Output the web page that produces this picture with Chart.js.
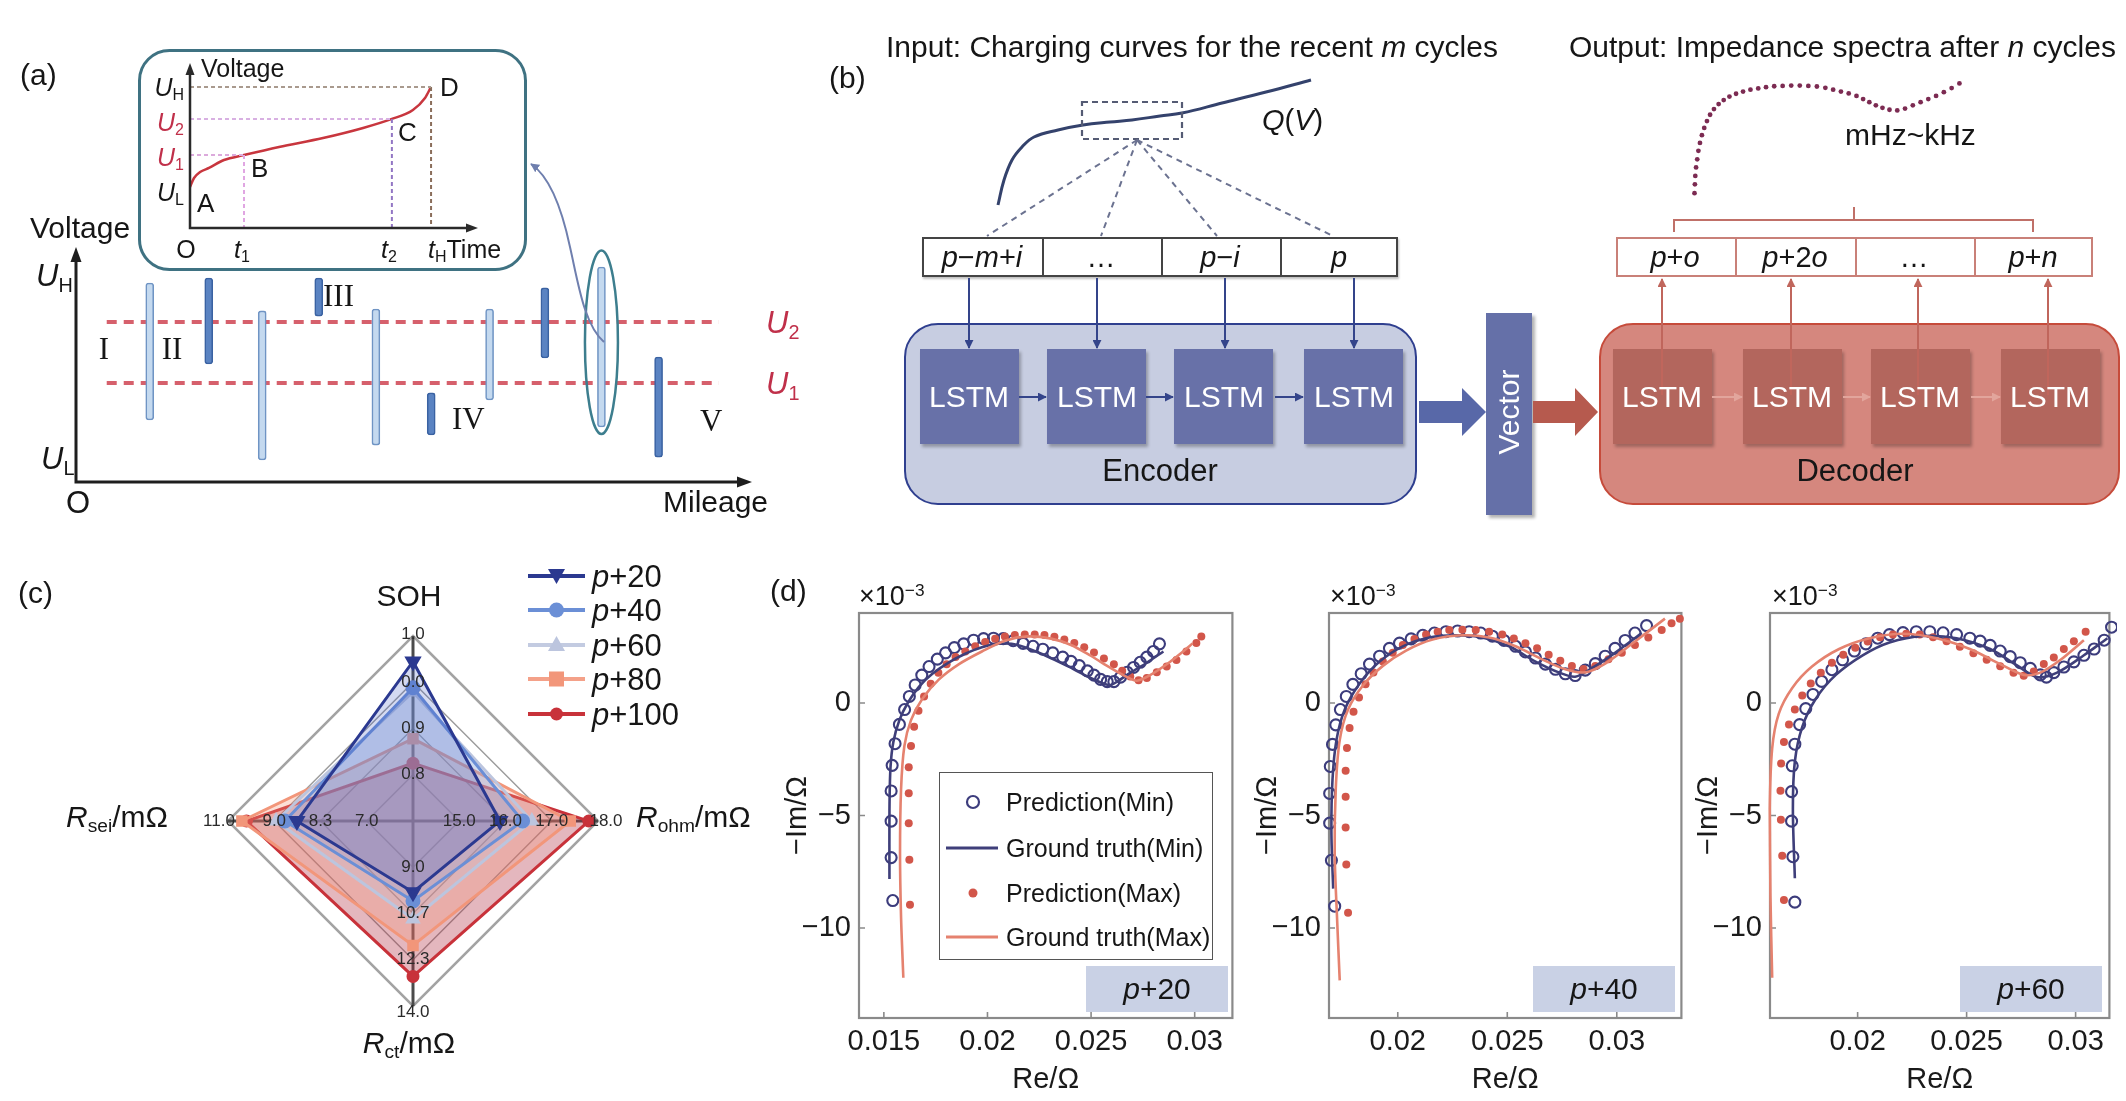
<!DOCTYPE html>
<html><head><meta charset="utf-8">
<script src="https://cdn.jsdelivr.net/npm/chart.js@4.4.1/dist/chart.umd.min.js"></script>
<style>
html,body{margin:0;padding:0;background:#fff;}
#root{position:relative;width:2126px;height:1101px;overflow:hidden;font-family:"Liberation Sans",Arial,Helvetica,sans-serif;color:#161616;}
.layer{position:absolute;left:0;top:0;width:2126px;height:1101px;}
.t{position:absolute;white-space:nowrap;line-height:1;}
.t sub,.t sup{font-size:0.64em;position:relative;line-height:0;vertical-align:baseline;}
.t sub{top:0.28em;}
.t sup{top:-0.55em;}
.box{position:absolute;box-sizing:border-box;}
canvas{position:absolute;}
</style></head>
<body><div id="root"><div class="layer" id="L0"></div><div class="layer" id="L1"></div><svg class="layer" id="L2" width="2126" height="1101" xmlns="http://www.w3.org/2000/svg"></svg><div class="layer" id="L3"></div></div>
<script>
// ======================= DATA =======================
// (a) inset: charging curve, normalised time vs normalised voltage
const insetTime = [0, 0.014, 0.035, 0.066, 0.118, 0.1875, 0.309, 0.462, 0.601, 0.701, 0.774, 0.816, 0.837];
const insetVolt = [0.248, 0.303, 0.339, 0.364, 0.412, 0.442, 0.491, 0.545, 0.606, 0.661, 0.715, 0.788, 0.855];
const insetLevelNames = ['UL', 'U1', 'U2', 'UH'];
const insetLevels = [0.248, 0.442, 0.661, 0.855];
const insetTimeNames = ['t1', 't2', 'tH'];
const insetTimes = [0.1875, 0.701, 0.837];
// (a) main: charging segments along mileage (voltage windows)
const segMileage = [7.0, 16.6, 25.3, 34.5, 43.8, 52.8, 62.3, 71.3, 80.5, 89.8];
const segLow  = [26.4, 50.2, 9.4, 70.6, 15.7, 20.0, 34.9, 52.8, 23.4, 10.6];
const segHigh = [84.7, 86.8, 72.8, 86.8, 73.6, 37.9, 73.6, 82.6, 91.5, 53.2];
const segDark = [false, true, false, true, false, true, false, true, false, true];
const voltLevelNames = ['U1', 'U2'];
const voltLevels = [42.1, 68.1];
// (b) schematic curves
const qvV = [0, 0.6, 1.4, 2.4, 3.6, 6.0, 8.5, 11.2, 13.4, 16.2, 18.4, 22.4, 26.8, 31.3];
const qvQ = [0.5, 3.0, 5.0, 6.3, 7.3, 8.0, 8.5, 8.8, 9.0, 9.4, 9.7, 10.7, 11.8, 13.0];
const specRe = [0.08,0.12,0.16,0.24,0.36,0.48,0.64,0.84,1.08,1.36,1.68,2.08,2.56,3.08,3.67,4.35,5.07,5.83,6.63,7.43,8.27,9.14,10.02,10.9,11.78,12.66,13.53,14.33,15.13,15.93,16.73,17.41,18.05,18.72,19.4,20.12,20.92,21.72,22.52,23.32,24.11,24.91,25.71,26.51,27.31];
const specIm = [0.33,1.27,2.17,3.07,3.93,4.83,5.67,6.5,7.27,8.0,8.67,9.27,9.8,10.23,10.6,10.9,11.13,11.33,11.47,11.6,11.7,11.73,11.77,11.77,11.73,11.67,11.53,11.33,11.13,10.93,10.67,10.33,10.0,9.67,9.4,9.2,9.13,9.33,9.67,10.0,10.33,10.67,11.07,11.5,12.0];
const inputCells = ['<i>p</i>−<i>m</i>+<i>i</i>', '…', '<i>p</i>−<i>i</i>', '<i>p</i>'];
const outputCells = ['<i>p</i>+<i>o</i>', '<i>p</i>+2<i>o</i>', '…', '<i>p</i>+<i>n</i>'];
// (c) radar (ring positions 0..4 on each spoke)
const radarAxes = ['SOH', 'Rohm', 'Rct', 'Rsei'];
const radarSeries = ['p+20', 'p+40', 'p+60', 'p+80', 'p+100'];
const radarP20  = [3.45, 1.88, 1.54, 2.51];
const radarP40  = [2.88, 2.37, 1.73, 2.77];
const radarP60  = [2.79, 2.57, 2.12, 2.96];
const radarP80  = [1.78, 3.40, 2.69, 3.70];
const radarP100 = [1.25, 3.80, 3.36, 3.60];
const radarTickSOH  = ['0.8', '0.9', '0.0', '1.0'];
const radarTickRohm = ['15.0', '16.0', '17.0', '18.0'];
const radarTickRct  = ['9.0', '10.7', '12.3', '14.0'];
const radarTickRsei = ['7.0', '8.3', '9.0', '11.0'];
// (d) impedance spectra  [Re/Ω, -Im/Ω ×10^-3]
const p20PredMin = [[0.01543,-8.78],[0.01535,-6.87],[0.01535,-5.25],[0.01535,-3.91],[0.0154,-2.77],[0.01554,-1.81],[0.01575,-0.95],[0.0160,-0.29],[0.01623,0.29],[0.01651,0.80],[0.01683,1.24],[0.01718,1.62],[0.01758,1.95],[0.01798,2.23],[0.0184,2.46],[0.01885,2.63],[0.01933,2.79],[0.01981,2.86],[0.02029,2.88],[0.02076,2.86],[0.02124,2.77],[0.02172,2.65],[0.0222,2.52],[0.02267,2.39],[0.02315,2.23],[0.02363,2.04],[0.02403,1.85],[0.02443,1.66],[0.02482,1.43],[0.02514,1.24],[0.02546,1.05],[0.02578,0.95],[0.0261,0.95],[0.02642,1.15],[0.02674,1.37],[0.02705,1.58],[0.02737,1.81],[0.02769,2.04],[0.02801,2.29],[0.0283,2.63]];
const p20TrueMin = [[0.01527,-7.82],[0.01527,-4.77],[0.01532,-2.86],[0.01546,-1.72],[0.01575,-0.76],[0.01615,0.0],[0.0167,0.73],[0.01734,1.30],[0.01814,1.81],[0.01893,2.19],[0.01973,2.48],[0.02053,2.63],[0.02116,2.63],[0.0218,2.48],[0.0226,2.19],[0.02339,1.85],[0.02419,1.49],[0.02498,1.11],[0.02562,0.86],[0.02594,0.80],[0.02626,0.95],[0.02689,1.34],[0.02769,1.79],[0.02849,2.29]];
const p20PredMax = [[0.01626,-8.97],[0.01623,-6.97],[0.0162,-5.34],[0.0162,-4.01],[0.0162,-2.86],[0.01631,-1.91],[0.01646,-1.05],[0.01667,-0.34],[0.01694,0.29],[0.01726,0.86],[0.01763,1.34],[0.01803,1.72],[0.01846,2.04],[0.01893,2.29],[0.01941,2.52],[0.01989,2.71],[0.02037,2.86],[0.02084,2.96],[0.02132,3.02],[0.0218,3.05],[0.02228,3.05],[0.02275,3.02],[0.02323,2.94],[0.02371,2.82],[0.02419,2.67],[0.02467,2.48],[0.02514,2.25],[0.02562,1.98],[0.0261,1.72],[0.0265,1.43],[0.02689,1.18],[0.02729,1.01],[0.02769,1.11],[0.02817,1.37],[0.02865,1.62],[0.02912,1.91],[0.0296,2.29],[0.03008,2.67],[0.03032,2.96]];
const p20TrueMax = [[0.01594,-12.21],[0.01583,-9.54],[0.01578,-6.68],[0.01583,-3.82],[0.01599,-1.91],[0.01631,-0.76],[0.01686,0.19],[0.01766,1.05],[0.01861,1.72],[0.01973,2.29],[0.02084,2.77],[0.02195,2.96],[0.02307,2.86],[0.02403,2.58],[0.02498,2.10],[0.02594,1.56],[0.02674,1.15],[0.02721,0.99],[0.02785,1.24],[0.02865,1.72],[0.02944,2.29],[0.0299,2.65]];
const p40PredMin = [[0.01712,-9.03],[0.01697,-6.99],[0.01689,-5.34],[0.01689,-4.02],[0.01692,-2.82],[0.01702,-1.84],[0.01717,-0.97],[0.01738,-0.29],[0.01765,0.29],[0.01795,0.83],[0.01833,1.30],[0.01871,1.73],[0.01917,2.08],[0.01962,2.43],[0.02008,2.66],[0.02061,2.85],[0.02114,3.01],[0.02167,3.11],[0.0222,3.17],[0.02273,3.20],[0.02326,3.17],[0.02379,3.11],[0.02432,2.97],[0.02485,2.78],[0.02538,2.52],[0.02583,2.27],[0.02629,2.0],[0.02674,1.73],[0.0272,1.50],[0.02765,1.30],[0.0281,1.22],[0.02856,1.46],[0.02902,1.75],[0.02947,2.08],[0.02992,2.43],[0.03038,2.78],[0.03083,3.11],[0.03136,3.44]];
const p40TrueMin = [[0.01705,-8.25],[0.01697,-5.73],[0.01702,-3.40],[0.0172,-1.65],[0.01758,-0.29],[0.01826,0.87],[0.01917,1.84],[0.02023,2.52],[0.02144,2.91],[0.02265,3.01],[0.02386,2.91],[0.02508,2.52],[0.02629,1.84],[0.02735,1.36],[0.0281,1.17],[0.02886,1.55],[0.02992,2.23],[0.03114,3.11]];
const p40PredMax = [[0.01773,-9.32],[0.01765,-7.18],[0.01762,-5.53],[0.01762,-4.17],[0.01762,-3.01],[0.01768,-2.0],[0.0178,-1.11],[0.01798,-0.39],[0.01823,0.25],[0.01853,0.83],[0.01889,1.36],[0.01932,1.84],[0.01977,2.23],[0.02023,2.58],[0.02076,2.85],[0.02129,3.05],[0.02182,3.17],[0.02235,3.24],[0.02295,3.26],[0.02356,3.24],[0.02417,3.17],[0.02477,3.05],[0.0253,2.87],[0.02583,2.66],[0.02636,2.43],[0.02689,2.14],[0.02742,1.88],[0.02795,1.65],[0.02848,1.51],[0.02902,1.65],[0.02962,1.94],[0.03023,2.23],[0.03083,2.58],[0.03144,2.91],[0.03205,3.24],[0.0325,3.55],[0.03288,3.75]];
const p40TrueMax = [[0.01735,-12.33],[0.01723,-9.61],[0.01712,-6.70],[0.01717,-3.79],[0.01735,-1.65],[0.01773,-0.29],[0.01841,0.78],[0.01932,1.65],[0.02038,2.33],[0.02159,2.82],[0.02295,3.01],[0.02417,2.91],[0.02538,2.52],[0.02659,1.94],[0.02765,1.50],[0.02856,1.36],[0.02947,1.75],[0.03068,2.62],[0.0322,3.75]];
const p60PredMin = [[0.01712,-8.85],[0.01703,-6.83],[0.01697,-5.25],[0.01697,-3.94],[0.017,-2.79],[0.01712,-1.83],[0.01734,-0.96],[0.01762,-0.25],[0.01795,0.38],[0.01835,0.96],[0.01882,1.48],[0.01931,1.92],[0.01985,2.31],[0.02038,2.63],[0.02092,2.88],[0.02146,3.04],[0.02208,3.13],[0.02269,3.17],[0.02331,3.17],[0.02392,3.12],[0.02454,3.04],[0.02515,2.88],[0.02562,2.75],[0.02608,2.56],[0.02654,2.31],[0.027,2.06],[0.02746,1.79],[0.02792,1.54],[0.02838,1.25],[0.02866,1.15],[0.029,1.35],[0.02946,1.60],[0.02992,1.83],[0.03038,2.12],[0.03085,2.40],[0.03131,2.79],[0.03165,3.37]];
const p60TrueMin = [[0.01712,-7.79],[0.01703,-4.71],[0.01712,-2.60],[0.01746,-1.06],[0.01808,0.19],[0.019,1.25],[0.02023,2.12],[0.02146,2.69],[0.023,2.98],[0.02454,2.88],[0.02608,2.40],[0.02731,1.67],[0.02823,1.15],[0.02915,1.35],[0.03038,2.12],[0.03146,2.88]];
const p60PredMax = [[0.01662,-8.75],[0.01654,-6.79],[0.01648,-5.19],[0.01646,-3.90],[0.01649,-2.69],[0.01662,-1.73],[0.01685,-0.96],[0.01712,-0.29],[0.01746,0.33],[0.01785,0.87],[0.01831,1.35],[0.01882,1.79],[0.01934,2.15],[0.01989,2.46],[0.02046,2.73],[0.02103,2.92],[0.02162,3.04],[0.02223,3.08],[0.02285,3.04],[0.02346,2.92],[0.02408,2.75],[0.02469,2.50],[0.02531,2.21],[0.02592,1.92],[0.02654,1.63],[0.02715,1.35],[0.02762,1.21],[0.02808,1.40],[0.02854,1.73],[0.029,2.02],[0.02946,2.40],[0.02992,2.75],[0.03046,3.17]];
const p60TrueMax = [[0.01608,-12.21],[0.016,-8.56],[0.01597,-4.71],[0.01608,-2.02],[0.01638,-0.48],[0.017,0.67],[0.01792,1.63],[0.01915,2.40],[0.02054,2.88],[0.02208,3.08],[0.02362,2.88],[0.02515,2.40],[0.02654,1.73],[0.02762,1.25],[0.02838,1.35],[0.02931,1.92],[0.03038,2.79]];
const eisYTicks = [-10, -5, 0];
const eisXTicks20 = [0.015, 0.02, 0.025, 0.03];
const eisXTicks = [0.02, 0.025, 0.03];

// ======================= HELPERS =======================
const SANS = '"Liberation Sans", Arial, Helvetica, sans-serif';
const SERIF = '"Liberation Serif", "Times New Roman", serif';
Chart.defaults.font.family = SANS;
const L0 = document.getElementById('L0'), L1 = document.getElementById('L1'), L2 = document.getElementById('L2'), L3 = document.getElementById('L3');
function T(html, x, y, size, o = {}) {
  const d = document.createElement('div'); d.className = 't'; d.innerHTML = html;
  d.style.left = x + 'px'; d.style.top = y + 'px'; d.style.fontSize = size + 'px';
  const ax = o.a === 'c' ? '-50%' : o.a === 'r' ? '-100%' : '0';
  d.style.transform = `translate(${ax},-50%)` + (o.rot ? ` rotate(${o.rot}deg)` : '');
  if (o.color) d.style.color = o.color;
  if (o.font) d.style.fontFamily = o.font;
  if (o.italic) d.style.fontStyle = 'italic';
  (o.parent || L3).appendChild(d); return d;
}
function R(x, y, w, h, st, parent) {
  const d = document.createElement('div'); d.className = 'box';
  Object.assign(d.style, { left: x + 'px', top: y + 'px', width: w + 'px', height: h + 'px' }, st || {});
  (parent || L0).appendChild(d); return d;
}
function mkCanvas(x, y, w, h) {
  const c = document.createElement('canvas'); c.width = w; c.height = h;
  c.style.left = x + 'px'; c.style.top = y + 'px'; c.style.width = w + 'px'; c.style.height = h + 'px';
  L1.appendChild(c); return c;
}
const arrowAxes = {
  id: 'arrowAxes',
  afterDatasetsDraw(c, a, o) {
    const { ctx, chartArea: ca } = c; const hd = o.head || 12, hw = o.hw || 5;
    ctx.save(); ctx.strokeStyle = ctx.fillStyle = o.color || '#222'; ctx.lineWidth = o.width || 2.5;
    ctx.beginPath(); ctx.moveTo(ca.left, ca.bottom); ctx.lineTo(ca.left, ca.top + hd);
    ctx.moveTo(ca.left - ctx.lineWidth / 2, ca.bottom); ctx.lineTo(ca.right - hd, ca.bottom); ctx.stroke();
    ctx.beginPath(); ctx.moveTo(ca.left, ca.top); ctx.lineTo(ca.left - hw, ca.top + hd + 1); ctx.lineTo(ca.left + hw, ca.top + hd + 1); ctx.closePath(); ctx.fill();
    ctx.beginPath(); ctx.moveTo(ca.right, ca.bottom); ctx.lineTo(ca.right - hd - 1, ca.bottom - hw); ctx.lineTo(ca.right - hd - 1, ca.bottom + hw); ctx.closePath(); ctx.fill();
    ctx.restore();
  }
};
const noDeco = { legend: { display: false }, tooltip: { enabled: false } };

// ======================= (a) INSET =======================
(function () {
  const cv = mkCanvas(180, 55, 310, 180);
  const lv = i => insetLevels[insetLevelNames.indexOf(i)];
  const tv = i => insetTimes[insetTimeNames.indexOf(i)];
  const guides = [
    [[0, lv('UH')], [tv('tH'), lv('UH')], '#a99a8e'],
    [[tv('tH'), lv('UH')], [tv('tH'), 0], '#8a6d5a'],
    [[0, lv('U2')], [tv('t2'), lv('U2')], '#d8b0e2'],
    [[tv('t2'), lv('U2')], [tv('t2'), 0], '#9276c4'],
    [[0, lv('U1')], [tv('t1'), lv('U1')], '#dcaadc'],
    [[tv('t1'), lv('U1')], [tv('t1'), 0], '#e0a6e2'],
  ];
  const ds = guides.map(g => ({ type: 'line', data: [{ x: g[0][0], y: g[0][1] }, { x: g[1][0], y: g[1][1] }], borderColor: g[2], borderWidth: 2, borderDash: [4, 3], pointRadius: 0 }));
  ds.push({ type: 'line', data: insetTime.map((t, i) => ({ x: t, y: insetVolt[i] })), borderColor: '#c8363e', borderWidth: 2.5, pointRadius: 0, cubicInterpolationMode: 'monotone' });
  new Chart(cv, {
    type: 'scatter', data: { datasets: ds },
    options: { responsive: false, animation: false, layout: { padding: { left: 10, top: 8, right: 12, bottom: 7 } },
      scales: { x: { type: 'linear', min: 0, max: 1, display: false }, y: { min: 0, max: 1, display: false } },
      plugins: Object.assign({ arrowAxes: { color: '#2a2a2a', width: 2.5, head: 11, hw: 4.5 } }, noDeco) },
    plugins: [arrowAxes]
  });
})();

// ======================= (a) MAIN =======================
(function () {
  const cv = mkCanvas(56, 237, 720, 260);
  const ellipse = {
    id: 'ellipse', afterDatasetsDraw(c) {
      const { ctx } = c, x = c.scales.x, y = c.scales.y; const i = 8;
      const mid = (segLow[i] + segHigh[i]) / 2 + 2, half = (segHigh[i] - segLow[i]) / 2 + 5;
      const cx = x.getPixelForValue(segMileage[i]), cy = y.getPixelForValue(mid), ry = y.getPixelForValue(mid - half) - cy;
      ctx.save(); ctx.strokeStyle = '#3d7e8e'; ctx.lineWidth = 2.5; ctx.beginPath(); ctx.ellipse(cx, cy, 16.5, ry, 0, 0, Math.PI * 2); ctx.stroke(); ctx.restore();
    }
  };
  const lines = voltLevels.map(v => ({ type: 'line', data: [{ x: 0, y: v }, { x: 99.6, y: v }], borderColor: '#d6606c', borderWidth: 4, borderDash: [10, 7], pointRadius: 0, order: 2 }));
  new Chart(cv, {
    type: 'bar',
    data: { datasets: [{ type: 'bar', data: segMileage.map((m, i) => ({ x: m, y: [segLow[i], segHigh[i]] })),
      backgroundColor: segDark.map(d => d ? '#5a83c2' : '#c4d9ef'), borderColor: segDark.map(d => d ? '#3a62a2' : '#6f94c4'),
      borderWidth: 1.6, borderRadius: 3, borderSkipped: false, barThickness: 8, order: 1 }].concat(lines) },
    options: { responsive: false, animation: false, layout: { padding: { left: 20, top: 10, right: 24, bottom: 15 } },
      scales: { x: { type: 'linear', min: 0, max: 100, display: false }, y: { min: 0, max: 100, display: false } },
      plugins: Object.assign({ arrowAxes: { color: '#1e1e1e', width: 3, head: 14, hw: 5.5 } }, noDeco) },
    plugins: [arrowAxes, ellipse]
  });
})();

// ======================= (b) SCHEMATIC CURVES =======================
(function () {
  const cv = mkCanvas(990, 70, 330, 140);
  new Chart(cv, { type: 'line', data: { datasets: [{ data: qvV.map((v, i) => ({ x: v, y: qvQ[i] })), borderColor: '#34426c', borderWidth: 3, pointRadius: 0, tension: 0.4 }] },
    options: { responsive: false, animation: false, scales: { x: { type: 'linear', min: -0.8, max: 32.2, display: false }, y: { min: 0, max: 14, display: false } }, plugins: noDeco } });
  const cv2 = mkCanvas(1680, 70, 295, 135);
  new Chart(cv2, { type: 'scatter', data: { datasets: [{ data: specRe.map((v, i) => ({ x: v, y: specIm[i] })), pointRadius: 2.4, pointBackgroundColor: '#7c2b52', pointBorderWidth: 0 }] },
    options: { responsive: false, animation: false, scales: { x: { type: 'linear', min: -1, max: 28.5, display: false }, y: { min: -0.5, max: 13, display: false } }, plugins: noDeco } });
})();

// ======================= (b) BOXES =======================
R(904, 323, 513, 182, { background: '#c7cde1', border: '2px solid #2f3f8f', borderRadius: '34px' });
[920, 1047, 1174, 1304].forEach(x => R(x, 349, 99, 95, { background: '#6871a8', boxShadow: '2px 3px 3px rgba(0,0,0,0.28)' }));
R(1486, 313, 46, 202, { background: '#6570a8', boxShadow: '3px 3px 3px rgba(0,0,0,0.3)' });
R(1599, 323, 521, 182, { background: '#d5877e', border: '2px solid #c64b3b', borderRadius: '34px' });
[1613, 1743, 1871, 2001].forEach(x => R(x, 349, 99, 95, { background: '#b3665d', boxShadow: '2px 3px 3px rgba(0,0,0,0.25)' }));
R(922, 237, 476, 40, { background: '#fff', border: '2px solid #444', boxShadow: '1px 2px 2px rgba(0,0,0,0.25)' });
[1042, 1161, 1280].forEach(x => R(x, 237, 2, 40, { background: '#444' }));
R(1616, 237, 477, 40, { background: '#fff', border: '2px solid #c98078' });
[1735, 1855, 1974].forEach(x => R(x, 237, 2, 40, { background: '#c98078' }));

// ======================= SVG OVERLAY =======================
(function () {
  const mk = (id, col) => `<marker id="${id}" viewBox="0 0 10 10" refX="9" refY="5" markerWidth="4.5" markerHeight="4.5" orient="auto"><path d="M0,0L10,5L0,10z" fill="${col}"/></marker>`;
  let s = `<defs>${mk('mB', '#34448a')}${mk('mR', '#c0665c')}${mk('mRl', '#e2a59c')}${mk('mG', '#6f7fae')}</defs>`;
  s += `<rect x="139.5" y="50.5" width="386" height="219" rx="30" fill="none" stroke="#3f7282" stroke-width="3"/>`;
  s += `<path d="M604,342 C584,325 578,282 570,247 C563,214 552,178 531,164" fill="none" stroke="#6f7fae" stroke-width="2" marker-end="url(#mG)"/>`;
  s += `<rect x="1082" y="102" width="100" height="37" fill="none" stroke="#555b74" stroke-width="2.2" stroke-dasharray="6 4"/>`;
  [987, 1101, 1217, 1333].forEach(x => s += `<line x1="1137" y1="140" x2="${x}" y2="236" stroke="#6b7290" stroke-width="2" stroke-dasharray="6 5"/>`);
  [969, 1097, 1225, 1354].forEach(x => s += `<line x1="${x}" y1="278" x2="${x}" y2="348" stroke="#34448a" stroke-width="2" marker-end="url(#mB)"/>`);
  [[1019, 1047], [1146, 1174], [1275, 1304]].forEach(p => s += `<line x1="${p[0]}" y1="397" x2="${p[1] - 1}" y2="397" stroke="#34448a" stroke-width="2" marker-end="url(#mB)"/>`);
  [[1712, 1743], [1843, 1871], [1971, 2001]].forEach(p => s += `<line x1="${p[0]}" y1="397" x2="${p[1] - 1}" y2="397" stroke="#e2a59c" stroke-width="2" marker-end="url(#mRl)"/>`);
  [1662, 1791, 1918, 2048].forEach(x => s += `<line x1="${x}" y1="395" x2="${x}" y2="279" stroke="#c0665c" stroke-width="2" marker-end="url(#mR)"/>`);
  s += `<polygon points="1419,401 1462,401 1462,388 1486,412 1462,436 1462,423 1419,423" fill="#5868a8"/>`;
  s += `<polygon points="1533,401 1575,401 1575,388 1598,412 1575,436 1575,423 1533,423" fill="#b65a4e"/>`;
  s += `<polyline points="1674,232 1674,220 2033,220 2033,232" fill="none" stroke="#c07068" stroke-width="2"/><line x1="1854" y1="220" x2="1854" y2="207" stroke="#c07068" stroke-width="2"/>`;
  L2.innerHTML = s;
})();

// ======================= (c) RADAR =======================
(function () {
  const cv = mkCanvas(130, 560, 566, 540);
  const styles = [
    { c: '#2b3990', f: 'rgba(60,85,190,0.22)', ps: 'triangle', rot: 180, r: 7 },
    { c: '#6b8fd6', f: 'rgba(110,145,220,0.22)', ps: 'circle', rot: 0, r: 6 },
    { c: '#bcc5de', f: 'rgba(185,195,225,0.25)', ps: 'triangle', rot: 0, r: 6 },
    { c: '#f2967a', f: 'rgba(245,150,120,0.30)', ps: 'rect', rot: 0, r: 6 },
    { c: '#c8323a', f: 'rgba(175,45,65,0.34)', ps: 'circle', rot: 0, r: 5 }];
  const vals = [radarP20, radarP40, radarP60, radarP80, radarP100];
  const tickSets = [radarTickSOH, radarTickRohm, radarTickRct, radarTickRsei];
  const tickLabels = {
    id: 'tickLabels', afterDatasetsDraw(c) {
      const { ctx } = c, r = c.scales.r;
      const outer = [[0, -2], [8, 0], [0, 6], [-9, 0]];
      ctx.save(); ctx.font = '17px ' + SANS; ctx.fillStyle = '#2a2a2a'; ctx.textAlign = 'center'; ctx.textBaseline = 'middle';
      tickSets.forEach((set, i) => set.forEach((lab, k) => {
        const p = r.getPointPositionForValue(i, k + 1); const o = k === 3 ? outer[i] : [0, 0];
        ctx.fillText(lab, p.x + o[0], p.y + o[1]);
      }));
      ctx.restore();
    }
  };
  new Chart(cv, {
    type: 'radar',
    data: { labels: radarAxes, datasets: vals.map((v, i) => ({ label: radarSeries[i], data: v, borderColor: styles[i].c, backgroundColor: styles[i].f, fill: true, borderWidth: 3,
      pointStyle: styles[i].ps, pointRotation: styles[i].rot, pointRadius: styles[i].r, pointBackgroundColor: styles[i].c, pointBorderColor: styles[i].c })) },
    options: { responsive: false, animation: false, layout: { padding: { left: 98, right: 98, top: 76, bottom: 94 } },
      scales: { r: { min: 0, max: 4, ticks: { display: false, stepSize: 1 }, pointLabels: { display: false },
        angleLines: { color: '#4b4b4b', lineWidth: 3 },
        grid: { color: c => c.tick && c.tick.value === 4 ? '#a3a3a3' : '#9a9a9a', lineWidth: c => c.tick && c.tick.value === 4 ? 2.5 : 1.4 } } },
      plugins: noDeco },
    plugins: [tickLabels]
  });
})();

// ======================= (d) IMPEDANCE =======================
const eisFrame = {
  id: 'eisFrame', beforeDatasetsDraw(c) {
    const { ctx, chartArea: a } = c, x = c.scales.x, y = c.scales.y;
    ctx.save(); ctx.strokeStyle = '#8a8a8a'; ctx.lineWidth = 2.2; ctx.strokeRect(a.left, a.top, a.right - a.left, a.bottom - a.top);
    ctx.lineWidth = 1.6; ctx.beginPath();
    x.ticks.forEach(t => { const px = x.getPixelForValue(t.value); ctx.moveTo(px, a.bottom); ctx.lineTo(px, a.bottom - 6); });
    y.ticks.forEach(t => { const py = y.getPixelForValue(t.value); ctx.moveTo(a.left, py); ctx.lineTo(a.left + 6, py); });
    ctx.stroke(); ctx.restore();
  }
};
function eis(left, width, xMin, xMax, xTicks, predMin, trueMin, predMax, trueMax) {
  const cv = mkCanvas(left, 560, width, 541);
  const xy = a => a.map(p => ({ x: p[0], y: p[1] }));
  const font = { family: SANS, size: 29 };
  new Chart(cv, {
    type: 'scatter',
    data: { datasets: [
      { type: 'line', data: xy(trueMax), borderColor: '#e5826f', borderWidth: 2.6, pointRadius: 0, tension: 0.3, clip: false },
      { type: 'line', data: xy(trueMin), borderColor: '#3f3f7a', borderWidth: 2.6, pointRadius: 0, tension: 0.3, clip: false },
      { type: 'scatter', data: xy(predMax), pointRadius: 4, pointBackgroundColor: '#d2564a', pointBorderWidth: 0, clip: false },
      { type: 'scatter', data: xy(predMin), pointRadius: 5.5, pointBorderWidth: 2.1, pointBorderColor: '#3c3c7c', pointBackgroundColor: 'rgba(255,255,255,0)', clip: false }] },
    options: { responsive: false, animation: false, layout: { padding: { top: 53, right: 6, left: 0, bottom: 0 } },
      scales: {
        x: { type: 'linear', min: xMin, max: xMax, afterBuildTicks: s => { s.ticks = xTicks.map(v => ({ value: v })); }, afterFit: s => { s.height = 83; },
          ticks: { font, color: '#1a1a1a', padding: 7, maxRotation: 0, autoSkip: false, callback: v => String(v) },
          grid: { display: false, drawTicks: false }, border: { display: false },
          title: { display: true, text: 'Re/Ω', font, color: '#1a1a1a', padding: { top: 0, bottom: 4 } } },
        y: { min: -14, max: 4, afterBuildTicks: s => { s.ticks = eisYTicks.map(v => ({ value: v })); }, afterFit: s => { s.width = 99; },
          ticks: { font, color: '#1a1a1a', padding: 8, autoSkip: false, callback: v => v < 0 ? '\u2212' + (-v) : String(v) },
          grid: { display: false, drawTicks: false }, border: { display: false },
          title: { display: true, text: '\u2212Im/Ω', font, color: '#1a1a1a', padding: { top: 21, bottom: 0 } } } },
      plugins: noDeco },
    plugins: [eisFrame]
  });
}
eis(760, 480, 0.0138, 0.03182, eisXTicks20, p20PredMin, p20TrueMin, p20PredMax, p20TrueMax);
eis(1230, 459, 0.01686, 0.03295, eisXTicks, p40PredMin, p40TrueMin, p40PredMax, p40TrueMax);
eis(1671, 446, 0.01598, 0.03155, eisXTicks, p60PredMin, p60TrueMin, p60PredMax, p60TrueMax);

// ======================= TEXT =======================
// (a)
T('(a)', 20, 75, 30);
T('Voltage', 201, 68, 25);
T('<i>U</i><sub>H</sub>', 184, 87, 25, { a: 'r' });
T('<i>U</i><sub>2</sub>', 184, 122, 25, { a: 'r', color: '#c0304a' });
T('<i>U</i><sub>1</sub>', 184, 157, 25, { a: 'r', color: '#c0304a' });
T('<i>U</i><sub>L</sub>', 184, 192, 25, { a: 'r' });
T('A', 197, 203, 26); T('B', 251, 168, 26); T('C', 398, 132, 26); T('D', 440, 87, 26);
T('O', 186, 249, 25, { a: 'c' });
T('<i>t</i><sub>1</sub>', 242, 249, 25, { a: 'c' });
T('<i>t</i><sub>2</sub>', 389, 249, 25, { a: 'c' });
T('<i>t</i><sub>H</sub>Time', 428, 249, 25);
T('Voltage', 30, 228, 30);
T('<i>U</i><sub>H</sub>', 36, 275, 31);
T('<i>U</i><sub>L</sub>', 41, 458, 31);
T('O', 78, 502, 31, { a: 'c' });
T('Mileage', 663, 502, 30);
T('<i>U</i><sub>2</sub>', 766, 322, 31, { color: '#c0304a' });
T('<i>U</i><sub>1</sub>', 766, 383, 31, { color: '#c0304a' });
T('I', 104, 348, 31, { a: 'c', font: SERIF });
T('II', 172, 348, 31, { a: 'c', font: SERIF });
T('III', 323, 295, 31, { font: SERIF });
T('IV', 452, 418, 31, { font: SERIF });
T('V', 700, 420, 31, { font: SERIF });
// (b)
T('Input: Charging curves for the recent <i>m</i> cycles', 886, 47, 30);
T('(b)', 829, 78, 30);
T('Output: Impedance spectra after <i>n</i> cycles', 1569, 47, 30);
T('<i>Q</i>(<i>V</i>)', 1262, 120, 29);
T('mHz~kHz', 1845, 135, 30);
[982, 1101, 1220, 1339].forEach((x, i) => T(inputCells[i], x, 257, 29, { a: 'c' }));
[1675, 1795, 1914, 2033].forEach((x, i) => T(outputCells[i], x, 257, 29, { a: 'c' }));
[969, 1097, 1224, 1354, 1662, 1792, 1920, 2050].forEach(x => T('LSTM', x, 397, 30, { a: 'c', color: '#fff' }));
T('Encoder', 1160, 470, 31, { a: 'c' });
T('Decoder', 1855, 470, 31, { a: 'c' });
T('Vector', 1509, 412, 30, { a: 'c', rot: -90, color: '#fff' });
// (c)
T('(c)', 18, 593, 30);
T('SOH', 409, 596, 30, { a: 'c' });
T('<i>R</i><sub>sei</sub>/mΩ', 168, 817, 30, { a: 'r' });
T('<i>R</i><sub>ohm</sub>/mΩ', 636, 817, 30);
T('<i>R</i><sub>ct</sub>/mΩ', 409, 1043, 30, { a: 'c' });
(function () {
  const sy = [
    '<line x1="0" y1="12" x2="57" y2="12" stroke="#2b3990" stroke-width="4"/><polygon points="20,5 37,5 28.5,20" fill="#2b3990"/>',
    '<line x1="0" y1="12" x2="57" y2="12" stroke="#6b8fd6" stroke-width="4"/><circle cx="28.5" cy="12" r="7.5" fill="#6b8fd6"/>',
    '<line x1="0" y1="12" x2="57" y2="12" stroke="#c3cbe1" stroke-width="4"/><polygon points="28.5,3 37,18 20,18" fill="#bcc5de"/>',
    '<line x1="0" y1="12" x2="57" y2="12" stroke="#f4a189" stroke-width="4"/><rect x="21" y="4.5" width="15" height="15" fill="#f2967a"/>',
    '<line x1="0" y1="12" x2="57" y2="12" stroke="#c8323a" stroke-width="4"/><circle cx="28.5" cy="12" r="6.5" fill="#c8323a"/>'];
  [576, 610, 645, 679, 714].forEach((cy, i) => {
    R(528, cy - 12, 57, 24, {}, L3).innerHTML = `<svg width="57" height="24">${sy[i]}</svg>`;
    T('<i>p</i>' + radarSeries[i].slice(1), 592, cy, 31);
  });
})();
// (d)
T('(d)', 770, 591, 30);
[[859, 596], [1330, 596], [1772, 596]].forEach(p => T('×10<sup>−3</sup>', p[0], p[1], 27));
(function () {
  const lg = R(939, 772, 274, 188, { border: '1.6px solid #555', background: '#fff' }, L3);
  const rows = [
    [29, '<circle cx="33" cy="10" r="6" fill="none" stroke="#3d3d7d" stroke-width="2.2"/>', 'Prediction(Min)'],
    [75, '<line x1="6" y1="10" x2="58" y2="10" stroke="#3f3f7a" stroke-width="3"/>', 'Ground truth(Min)'],
    [120, '<circle cx="33" cy="10" r="4.5" fill="#d2564a"/>', 'Prediction(Max)'],
    [164, '<line x1="6" y1="10" x2="58" y2="10" stroke="#e5826f" stroke-width="3"/>', 'Ground truth(Max)']];
  rows.forEach(r => {
    R(0, r[0] - 10, 62, 20, {}, lg).innerHTML = `<svg width="62" height="20">${r[1]}</svg>`;
    T(r[2], 66, r[0], 25, { parent: lg });
  });
  [[1086, 'p+20'], [1533, 'p+40'], [1960, 'p+60']].forEach(b => {
    R(b[0], 966, 142, 46, { background: '#c9d1e5' }, L3);
    T('<i>p</i>' + b[1].slice(1), b[0] + 71, 989, 30, { a: 'c' });
  });
})();
</script></body></html>
